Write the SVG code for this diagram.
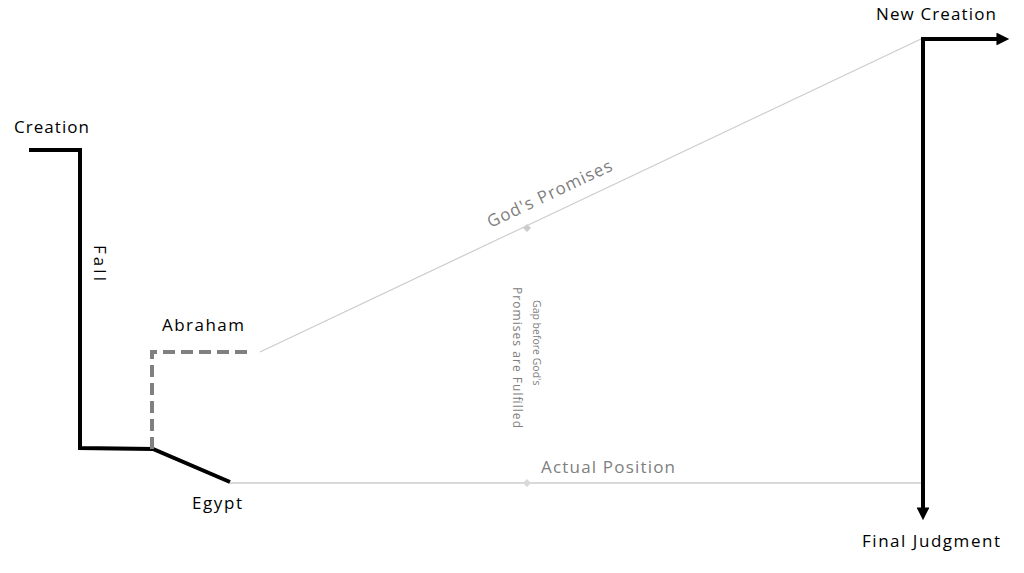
<svg xmlns="http://www.w3.org/2000/svg" width="1024" height="573" viewBox="0 0 1024 573">
<style>
.lbl{font-family:"Open Sans","Liberation Sans",sans-serif;font-size:17px;fill:#000}
.glbl{font-family:"Open Sans","Liberation Sans",sans-serif;font-size:17px;fill:#808080}
.small{font-family:"Open Sans","Liberation Sans",sans-serif;font-size:12px;fill:#808080}
.blk{fill:none;stroke:#000;stroke-width:4;stroke-linejoin:miter}
</style>
<defs>
<marker id="ah" viewBox="0 0 10 10" refX="2" refY="5" markerWidth="3.4" markerHeight="3.2" orient="auto" markerUnits="strokeWidth">
<path d="M0,0 L10,5 L0,10 Z" fill="#000"/>
</marker>
</defs>
<rect width="1024" height="573" fill="#fff"/>
<g id="connectors">
<path class="blk" d="M29,150 H80 V448 L153,449 L230,482"/>
<path d="M152,449 V352 H252" fill="none" stroke="#808080" stroke-width="4" stroke-dasharray="12,6"/>
<line x1="260" y1="352" x2="921" y2="39" stroke="#cccccc" stroke-width="1.2"/>
<path d="M527,224 L531,228 L527,232 L523,228 Z" fill="#cccccc"/>
<line x1="230" y1="483" x2="921" y2="483" stroke="#d9d9d9" stroke-width="2"/>
<path d="M527,479 L531,483 L527,487 L523,483 Z" fill="#d9d9d9"/>
<path class="blk" d="M923,39 H999" marker-end="url(#ah)"/>
<line x1="923" y1="37" x2="923" y2="510" stroke="#000" stroke-width="4" marker-end="url(#ah)"/>
</g>
<g id="creation"><text class="lbl" x="14" y="133" textLength="75">Creation</text></g>
<g id="fall"><text class="lbl" transform="translate(94,263) rotate(90)" text-anchor="middle" font-size="18" textLength="36">Fall</text></g>
<g id="abraham"><text class="lbl" x="162" y="331" textLength="82">Abraham</text></g>
<g id="egypt"><text class="lbl" x="192" y="509" textLength="50">Egypt</text></g>
<g id="promises"><text class="glbl" transform="translate(552,199) rotate(-25.3)" text-anchor="middle" textLength="136">God's Promises</text></g>
<g id="gap"><text class="small" transform="translate(527,0) rotate(90)"><tspan x="300" y="-6" font-size="10.5">Gap before God's</tspan><tspan x="287" y="14" textLength="141">Promises are Fulfilled</tspan></text></g>
<g id="actual"><text class="glbl" x="541" y="473" textLength="134">Actual Position</text></g>
<g id="newcreation"><text class="lbl" x="876" y="20" textLength="120">New Creation</text></g>
<g id="finaljudgment"><text class="lbl" x="862" y="547" textLength="138">Final Judgment</text></g>
</svg>
